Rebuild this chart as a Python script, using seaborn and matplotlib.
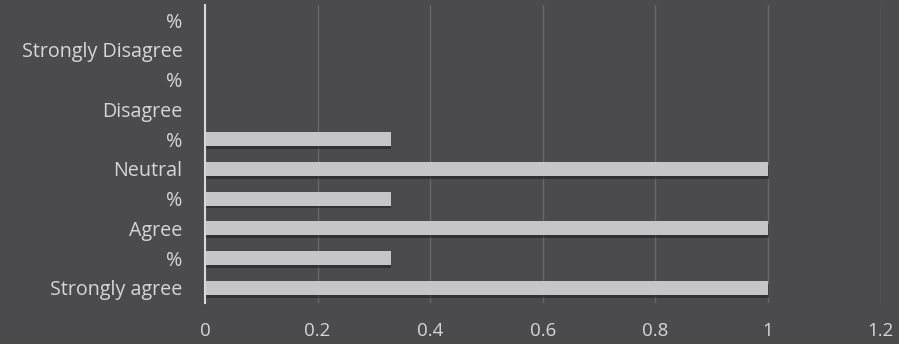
import matplotlib
matplotlib.use("Agg")
import matplotlib.pyplot as plt
import matplotlib.patheffects as pe
import seaborn as sns
import pandas as pd

# Response categories, listed top to bottom as they appear on the chart
labels = ["%", "Strongly Disagree", "%", "Disagree", "%", "Neutral",
          "%", "Agree", "%", "Strongly agree"]
values = [0, 0, 0, 0, 0.33, 1, 0.33, 1, 0.33, 1]
x_ticks = [0, 0.2, 0.4, 0.6, 0.8, 1, 1.2]
x_tick_labels = ["0", "0.2", "0.4", "0.6", "0.8", "1", "1.2"]

df = pd.DataFrame({"row": list(range(len(labels))), "value": values})

bg = "#4b4b4e"
fg = "#d6d6d6"

sns.set_theme(style="dark")
plt.rcParams["font.family"] = ["Open Sans", "DejaVu Sans"]

fig = plt.figure(figsize=(8.99, 3.44), dpi=100, facecolor=bg)
ax = fig.add_axes([0.228, 0.12, 0.7516, 0.865])
ax.set_facecolor(bg)

sns.barplot(data=df, x="value", y="row", orient="h", color="#c6c6c8",
            width=0.47, saturation=1, linewidth=0, ax=ax, zorder=3)

for bar in ax.patches:
    bar.set_linewidth(0)
    bar.set_path_effects([
        pe.SimplePatchShadow(offset=(0.5, -2), shadow_rgbFace="#1a1a1a", alpha=0.5),
        pe.Normal(),
    ])

ax.set_xlim(0, 1.2)
ax.set_ylim(len(labels) - 0.5, -0.5)
ax.set_xticks(x_ticks)
ax.set_xticklabels(x_tick_labels)
ax.set_yticks(range(len(labels)))
ax.set_yticklabels(labels)
ax.set_xlabel("")
ax.set_ylabel("")

ax.tick_params(axis="y", colors=fg, labelsize=14.2, length=0, pad=16)
ax.tick_params(axis="x", colors=fg, labelsize=13.5, length=0, pad=14)

ax.grid(axis="x", color="#7c7c80", linewidth=1, alpha=0.6, zorder=0)
ax.grid(axis="y", visible=False)
ax.set_axisbelow(True)

for side in ["top", "right", "bottom"]:
    ax.spines[side].set_visible(False)
ax.spines["left"].set_color("#d8d8d8")
ax.spines["left"].set_linewidth(1.5)
ax.spines["left"].set_zorder(4)

fig.savefig("out.png", dpi=100, facecolor=bg)
